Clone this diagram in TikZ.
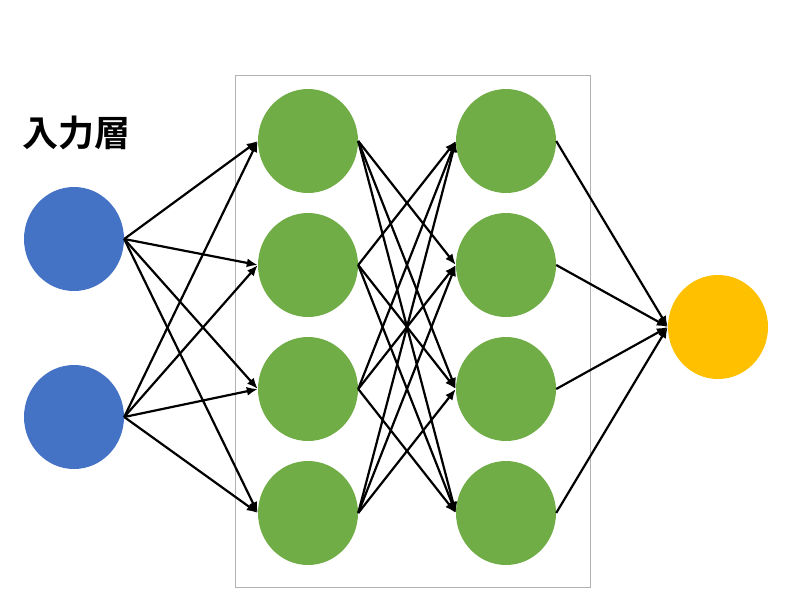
\documentclass[tikz,border=0pt]{standalone}
\usepackage{fontspec}
\newfontfamily\cjk{Noto Sans CJK JP}[BoldFont={Noto Sans CJK JP Bold}]
\usetikzlibrary{shapes.geometric,arrows.meta}
\definecolor{cb}{RGB}{68,114,196}
\definecolor{cg}{RGB}{112,173,71}
\definecolor{cy}{RGB}{255,192,0}
\begin{document}
\begin{tikzpicture}[x=1pt,y=-1pt,
  n/.style={ellipse,minimum width=100pt,minimum height=104pt,inner sep=0pt},
  c/.style={draw=black,line width=2.2pt,-{Latex[length=11pt,width=9pt]}}]
\useasboundingbox (0,0) rectangle (800,600);
\draw[gray!60,line width=0.8pt] (235,75) rectangle (590,587);
\node[font=\cjk\bfseries\fontsize{36}{40}\selectfont] (t) at (76,133) {入力層};
\node[n,fill=cb] (a1) at (74,239) {};
\node[n,fill=cb] (a2) at (74,417) {};
\foreach \i/\y in {1/141,2/265,3/389,4/513} {
  \node[n,fill=cg] (b\i) at (308,\y) {};
  \node[n,fill=cg] (h\i) at (506,\y) {};
}
\node[n,fill=cy] (o) at (718,327) {};
\foreach \i in {1,2} {\foreach \j in {1,...,4} {\draw[c] (a\i.east) -- (b\j.west);}}
\foreach \i in {1,...,4} {\foreach \j in {1,...,4} {\ifnum\i=\j\relax\else\draw[c] (b\i.east) -- (h\j.west);\fi}}
\foreach \i in {1,...,4} {\draw[c] (h\i.east) -- (o.west);}
\end{tikzpicture}
\end{document}
